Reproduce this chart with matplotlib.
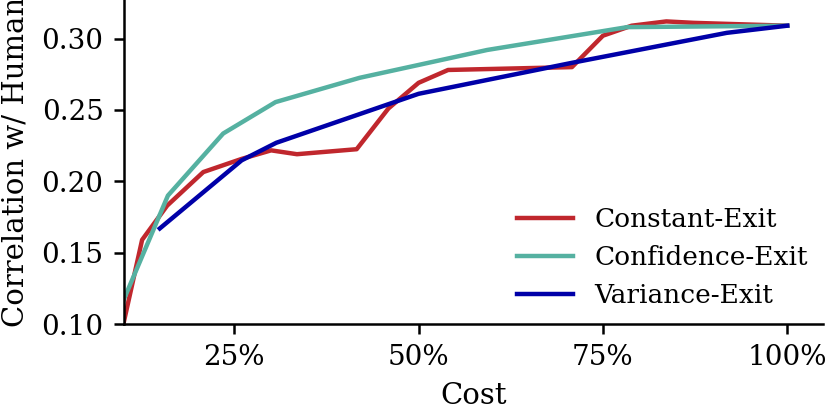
import numpy as np
import matplotlib.pyplot as plt
from matplotlib.ticker import FuncFormatter

# Constant-Exit
cost_const = [0.10, 0.125, 0.159, 0.208, 0.26, 0.30, 0.335, 0.416, 0.459, 0.50,
              0.54, 0.708, 0.75, 0.789, 0.836, 0.873, 1.0]
corr_const = [0.101, 0.159, 0.183, 0.2065, 0.2157, 0.2217, 0.219, 0.2225, 0.251, 0.269,
              0.278, 0.28, 0.302, 0.309, 0.312, 0.311, 0.309]

# Confidence-Exit
cost_conf = [0.10, 0.16, 0.235, 0.306, 0.42, 0.593, 0.783, 1.0]
corr_conf = [0.117, 0.19, 0.2335, 0.2555, 0.2725, 0.292, 0.308, 0.309]

# Variance-Exit
cost_var = [0.149, 0.26, 0.307, 0.50, 0.708, 0.918, 1.0]
corr_var = [0.167, 0.2147, 0.227, 0.2613, 0.283, 0.304, 0.309]

plt.rcParams['font.family'] = 'DejaVu Serif'

fig = plt.figure(figsize=(8.3, 4.15), dpi=100)
ax = fig.add_axes([0.149, 0.219, 0.843, 0.781])

ax.plot(cost_const, corr_const, color='#c0272d', lw=3.2, label='Constant-Exit')
ax.plot(cost_conf, corr_conf, color='#55b1a1', lw=3.2, label='Confidence-Exit')
ax.plot(cost_var, corr_var, color='#0000a8', lw=3.2, label='Variance-Exit')

ax.set_xlim(0.10, 1.049)
ax.set_ylim(0.10, 0.327)
ax.set_xticks([0.25, 0.5, 0.75, 1.0])
ax.set_yticks([0.10, 0.15, 0.20, 0.25, 0.30])
ax.xaxis.set_major_formatter(FuncFormatter(lambda v, p: f'{int(round(v * 100))}%'))
ax.yaxis.set_major_formatter(FuncFormatter(lambda v, p: f'{v:.2f}'))
ax.tick_params(labelsize=20, width=1.8, length=7, pad=7.5)
for s in ['top', 'right']:
    ax.spines[s].set_visible(False)
for s in ['left', 'bottom']:
    ax.spines[s].set_linewidth(1.8)

ax.set_xlabel('Cost', fontsize=21, labelpad=8)
ax.set_ylabel('Correlation w/ Human', fontsize=21)
ax.yaxis.set_label_coords(-0.134, 0.5)

ax.legend(loc='lower right', frameon=False, fontsize=19, borderaxespad=0.2,
          handlelength=2.1)

fig.savefig('out.png', dpi=100)
